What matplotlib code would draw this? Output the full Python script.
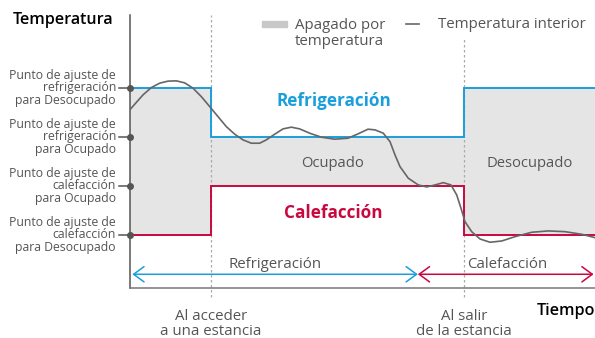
import numpy as np
import matplotlib.pyplot as plt
from matplotlib.patches import FancyArrowPatch, Rectangle

plt.rcParams['font.family'] = ['Open Sans', 'DejaVu Sans']

# setpoint levels (abstract temperature units)
levels = [3.0, 2.0, 1.0, 0.0]
level_labels = [
    'Punto de ajuste de\nrefrigeración\npara Desocupado',
    'Punto de ajuste de\nrefrigeración\npara Ocupado',
    'Punto de ajuste de\ncalefacción\npara Ocupado',
    'Punto de ajuste de\ncalefacción\npara Desocupado',
]

# time of entering / leaving the room
t_enter = 17.4
t_leave = 71.8
t_end = 100.0
t_switch = 61.9   # mode change from cooling to heating

# cooling / heating setpoint schedules
sched_t = [0.0, t_enter, t_enter, t_leave, t_leave, t_end]
cool_sp = [3.0, 3.0, 2.0, 2.0, 3.0, 3.0]
heat_sp = [0.0, 0.0, 1.0, 1.0, 0.0, 0.0]

# indoor temperature
temp_t = [0.0, 1.01, 2.80, 4.58, 6.39, 8.17, 9.96, 11.76, 13.55, 15.33,
          17.14, 18.92, 20.71, 22.52, 24.30, 26.09, 27.89, 29.31, 31.12, 32.90,
          34.69, 36.49, 38.65, 41.14, 44.02, 46.88, 49.03, 51.18, 52.69, 54.47,
          55.91, 56.99, 58.06, 59.85, 62.00, 63.81, 65.59, 67.38, 69.03, 70.26,
          71.18, 72.04, 73.48, 75.27, 77.42, 79.94, 82.80, 86.39, 89.96, 93.55,
          97.14, 100.0]
temp_v = [2.55, 2.66, 2.851, 3.000, 3.090, 3.131, 3.137, 3.096, 2.988, 2.816,
          2.612, 2.408, 2.204, 2.049, 1.933, 1.865, 1.865, 1.933, 2.049, 2.157,
          2.192, 2.157, 2.069, 1.988, 1.947, 1.967, 2.055, 2.151, 2.137, 2.069,
          1.898, 1.627, 1.388, 1.151, 1.014, 0.973, 1.014, 1.061, 1.014, 0.810,
          0.539, 0.265, 0.061, -0.088, -0.155, -0.129, -0.041, 0.049, 0.076, 0.061,
          0.008, -0.061]

blue = '#1a9fdb'
red = '#c8083f'
grey_txt = '#555555'
fill_c = '#e5e5e5'

W, H = 595, 338
fig = plt.figure(figsize=(W / 100, H / 100), dpi=100)
ax = fig.add_axes([130 / W, 50 / H, 465 / W, 273 / H])
ax.set_xlim(0, t_end)
ax.set_ylim(-1.088, 4.48)
ax.set_xticks([])
ax.set_yticks([])
for s in ['top', 'right']:
    ax.spines[s].set_visible(False)
ax.spines['left'].set_color('#555555')
ax.spines['bottom'].set_color('#777777')
ax.spines['left'].set_linewidth(1.1)
ax.spines['bottom'].set_linewidth(1.1)

# area where the unit is off (between setpoints)
ax.fill_between(sched_t, heat_sp, cool_sp, color=fill_c, lw=0, zorder=1)
ax.plot(sched_t, cool_sp, color=blue, lw=1.4, zorder=3, solid_joinstyle='miter')
ax.plot(sched_t, heat_sp, color=red, lw=1.4, zorder=3, solid_joinstyle='miter')

# dotted event lines
ax.plot([t_enter, t_enter], [-1.28, 4.48], color='#aaaaaa', lw=0.9,
        ls=(0, (2, 2)), clip_on=False, zorder=2)
ax.plot([t_leave, t_leave], [-1.28, 4.0], color='#aaaaaa', lw=0.9,
        ls=(0, (2, 2)), clip_on=False, zorder=2)

ax.plot(temp_t, temp_v, color='#666666', lw=1.2, zorder=4, solid_joinstyle='round')

# setpoint ticks
for lv, lab in zip(levels, level_labels):
    ax.plot([-2.4, 0], [lv, lv], color='#555555', lw=1.1, clip_on=False, zorder=5)
    ax.plot([0], [lv], 'o', color='#555555', ms=4, clip_on=False, zorder=5)
    ax.text(-3.0, lv, lab, ha='right', va='center', fontsize=8.8,
            color=grey_txt, linespacing=0.95)

# mode arrows
y_arr = -0.808
ax.add_patch(FancyArrowPatch((0.5, y_arr), (t_switch, y_arr),
                             arrowstyle='<->,head_length=0.75,head_width=0.55',
                             mutation_scale=10, color=blue, lw=1.1,
                             shrinkA=0, shrinkB=0, clip_on=False))
ax.add_patch(FancyArrowPatch((t_switch, y_arr), (t_end - 0.3, y_arr),
                             arrowstyle='<->,head_length=0.75,head_width=0.55',
                             mutation_scale=10, color=red, lw=1.1,
                             shrinkA=0, shrinkB=0, clip_on=False))
ax.text(31.2, y_arr + 0.05, 'Refrigeración', ha='center', va='bottom',
        fontsize=10.8, color=grey_txt)
ax.text(81.1, y_arr + 0.05, 'Calefacción', ha='center', va='bottom',
        fontsize=10.8, color=grey_txt)

# region labels
ax.text(43.8, 2.73, 'Refrigeración', ha='center', va='center', fontsize=12.3,
        fontweight='bold', color=blue)
ax.text(43.8, 0.44, 'Calefacción', ha='center', va='center', fontsize=12.3,
        fontweight='bold', color=red)
ax.text(43.6, 1.45, 'Ocupado', ha='center', va='center', fontsize=10.6, color=grey_txt)
ax.text(85.9, 1.45, 'Desocupado', ha='center', va='center', fontsize=10.6, color=grey_txt)

# axis titles
fig.text(13 / W, 1 - 20 / H, 'Temperatura', ha='left', va='center', fontsize=11.6,
         fontweight='semibold', color='black')
fig.text(1.0, 1 - 311 / H, 'Tiempo', ha='right', va='center', fontsize=11.6,
         fontweight='semibold', color='black')
fig.text(211 / W, 1 - 324 / H, 'Al acceder\na una estancia', ha='center', va='center',
         fontsize=10.8, color=grey_txt, linespacing=1.04)
fig.text(463.7 / W, 1 - 324 / H, 'Al salir\nde la estancia', ha='center', va='center',
         fontsize=10.8, color=grey_txt, linespacing=1.04)

# legend
fig.patches.append(Rectangle((262 / W, 1 - 27 / H), 25 / W, 6 / H,
                             transform=fig.transFigure, color='#c8c8c8'))
fig.text(295 / W, 1 - 33.5 / H, 'Apagado por\ntemperatura', ha='left', va='center',
         fontsize=10.8, color=grey_txt, linespacing=1.12)
fig.lines.append(plt.Line2D([406 / W, 419 / W], [1 - 24 / H, 1 - 24 / H],
                            transform=fig.transFigure, color='#666666', lw=1.2))
fig.text(437.5 / W, 1 - 24 / H, 'Temperatura interior', ha='left', va='center',
         fontsize=10.8, color=grey_txt)

fig.savefig('out.png', dpi=100)
